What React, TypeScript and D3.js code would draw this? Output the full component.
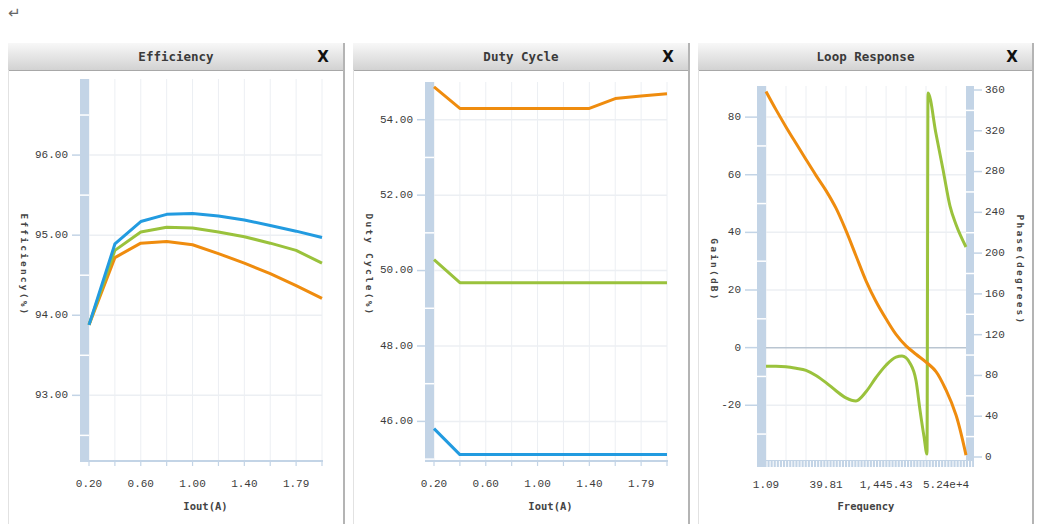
import * as d3 from 'd3';

// ---- data ----
const iout = ['0.20', '0.40', '0.60', '0.80', '1.00', '1.20', '1.40', '1.60', '1.79', '1.99'];
const ioutShown = ['0.20', '0.60', '1.00', '1.40', '1.79'];

const effBlue = [93.88, 94.89, 95.17, 95.26, 95.27, 95.24, 95.19, 95.12, 95.05, 94.97];
const effGreen = [93.88, 94.81, 95.04, 95.1, 95.09, 95.04, 94.98, 94.9, 94.81, 94.65];
const effOrange = [93.88, 94.72, 94.9, 94.92, 94.88, 94.77, 94.65, 94.52, 94.37, 94.21];
const effTicks = [93, 94, 95, 96];
const effMinor = [92.5, 93.5, 94.5, 95.5, 96.5];

const dutyOrange = [54.87, 54.3, 54.3, 54.3, 54.3, 54.3, 54.3, 54.56, 54.63, 54.69];
const dutyGreen = [50.29, 49.68, 49.68, 49.68, 49.68, 49.68, 49.68, 49.68, 49.68, 49.68];
const dutyBlue = [45.81, 45.12, 45.12, 45.12, 45.12, 45.12, 45.12, 45.12, 45.12, 45.12];
const dutyTicks = [46, 48, 50, 52, 54];
const dutyMinor = [45, 47, 49, 51, 53, 55];

const gainFreq = [1.09, 1.98, 3.61, 6.57, 11.95, 21.7, 39.6, 72, 131, 238, 434, 790, 1437, 2615, 4757, 8656, 15750, 28650, 52130, 94850, 172600];
const gainDb = [88.9, 82.6, 76.6, 70.9, 65.3, 59.8, 54.5, 48.4, 40.6, 31.9, 23.2, 16.0, 10.0, 4.6, 0.6, -2.3, -5.0, -8.3, -14.7, -23.4, -37.3];
const phaseFreq = [1.09, 1.98, 3.61, 6.57, 11.95, 21.7, 39.6, 72, 131, 238, 434, 790, 1437, 2615, 3745, 6045, 8656, 11000, 13977, 16727, 17760, 28650, 43590, 66290, 94850, 172600];
const phaseDeg = [89, 89, 88.5, 87, 85, 80, 73, 65, 58, 55, 64, 78, 90, 98, 99, 92, 75, 46, 20, 3, 357, 317, 282, 246, 228, 206];
const gainTicks = [-20, 0, 20, 40, 60, 80];
const gainMinor = [-30, -10, 10, 30, 50, 70];
const phaseTicks = [0, 40, 80, 120, 160, 200, 240, 280, 320, 360];
const phaseMinor = [20, 60, 100, 140, 180, 220, 260, 300, 340];
const freqLabels = [1.09, 39.81, 1445.43, 52400];
const freqLabelText = ['1.09', '39.81', '1,445.43', '5.24e+4'];
const freqGrid = [3.61, 11.95, 39.81, 131, 438, 1445.43, 4757, 15750, 52400];

const BLUE = '#229be0';
const GREEN = '#9ac23c';
const ORANGE = '#ef8c0e';
const BAR = '#c3d4e6';
const GRID = '#eceff3';
const MONO = '"Liberation Mono", "DejaVu Sans Mono", monospace';
const TITLE = '"DejaVu Sans Mono", monospace';
const LABEL = '#3c3c3c';

const Panel = ({ x0, x1, title }) => (
  <g>
    <defs>
      <linearGradient id={`hdr${x0}`} x1="0" x2="0" y1="0" y2="1">
        <stop offset="0" stopColor="#f8f8f8" />
        <stop offset="1" stopColor="#d2d2d2" />
      </linearGradient>
    </defs>
    <rect x={x0} y={43} width={x1 - x0} height={27} fill={`url(#hdr${x0})`} />
    <line x1={x0} x2={x1} y1={70.5} y2={70.5} stroke="#a8a8a8" />
    <line x1={x0 + 0.5} x2={x0 + 0.5} y1={70} y2={524} stroke="#e2e2e2" />
    <line x1={x1} x2={x1} y1={43} y2={524} stroke="#b4b4b4" strokeWidth={2} />
    <text x={(x0 + x1) / 2} y={57} textAnchor="middle" dominantBaseline="middle"
      fontFamily={TITLE} fontWeight="bold" fontSize={12.5} fill="#3a3a3a">{title}</text>
    <text x={x1 - 21} y={57} textAnchor="middle" dominantBaseline="middle"
      fontFamily="'DejaVu Sans', sans-serif" fontWeight="bold" fontSize={15} fill="#111">X</text>
  </g>
);

const IoutChart = ({ x0, x1, title, yLabel, domain, ticks, minor, series, top }) => {
  const left = x0 + 81;
  const right = x0 + 314;
  const bottom = 461;
  const x = d3.scalePoint().domain(iout).range([left, right]);
  const y = d3.scaleLinear().domain(domain).range([bottom, top]);
  const line = d3.line().x((d, i) => x(iout[i])).y((d) => y(d));

  return (
    <g>
      <Panel x0={x0} x1={x1} title={title} />
      {iout.map((c) => (
        <line key={c} x1={x(c)} x2={x(c)} y1={top} y2={bottom} stroke={GRID} />
      ))}
      {ticks.map((t) => (
        <line key={t} x1={left} x2={right} y1={y(t)} y2={y(t)} stroke={GRID} strokeWidth={1.5} />
      ))}
      <rect x={left - 9} y={top} width={9} height={bottom - top} fill={BAR} />
      {minor.filter((m) => y(m) > top && y(m) < bottom).map((m) => (
        <line key={m} x1={left - 9} x2={left} y1={y(m)} y2={y(m)} stroke="#fff" strokeWidth={1.5} />
      ))}
      {ticks.map((t) => (
        <g key={t}>
          <line x1={left - 17} x2={left - 9} y1={y(t)} y2={y(t)} stroke={BAR} strokeWidth={1.5} />
          <text x={left - 21} y={y(t)} textAnchor="end" dominantBaseline="middle"
            fontFamily={MONO} fontSize={11} fill={LABEL}>{t.toFixed(2)}</text>
        </g>
      ))}
      <line x1={left - 9} x2={right + 1} y1={bottom} y2={bottom} stroke={BAR} strokeWidth={2} />
      {iout.map((c) => (
        <line key={c} x1={x(c)} x2={x(c)} y1={bottom} y2={bottom + 5} stroke={BAR} strokeWidth={1.2} />
      ))}
      {ioutShown.map((c) => (
        <text key={c} x={x(c)} y={484} textAnchor="middle" dominantBaseline="middle"
          fontFamily={MONO} fontSize={11} fill={LABEL}>{c}</text>
      ))}
      <text x={(left + right) / 2} y={507} textAnchor="middle" dominantBaseline="middle"
        fontFamily={TITLE} fontWeight="bold" fontSize={10.5} fill="#444">Iout(A)</text>
      <text transform={`translate(${x0 + 15},265) rotate(90)`} textAnchor="middle" dominantBaseline="middle"
        fontFamily={TITLE} fontWeight="bold" fontSize={9.5} letterSpacing={2.2} fill="#444">{yLabel}</text>
      {series.map((s) => (
        <path key={s.color} d={line(s.values)} fill="none" stroke={s.color} strokeWidth={3} strokeLinejoin="round" />
      ))}
    </g>
  );
};

const LoopChart = ({ x0, x1 }) => {
  const left = 766;
  const right = 966;
  const bottom = 460;
  const top = 86;
  const x = d3.scaleLog().domain([1.09, 172600]).range([left, right]);
  const yG = d3.scaleLinear().domain([-39, 90.8]).range([bottom, top]);
  const yP = d3.scaleLinear().domain([0, 360]).range([457, 90]);
  const gainLine = d3.line().x((d, i) => x(gainFreq[i])).y((d) => yG(d)).curve(d3.curveCatmullRom.alpha(0.5));
  const phaseLine = d3.line().x((d, i) => x(phaseFreq[i])).y((d) => yP(d)).curve(d3.curveMonotoneX);
  const dashes = d3.range(left + 1, right + 6, 3.1);

  return (
    <g>
      <Panel x0={x0} x1={x1} title="Loop Response" />
      {[1.09, ...freqGrid].map((f) => (
        <line key={f} x1={x(f)} x2={x(f)} y1={top} y2={bottom} stroke={GRID} />
      ))}
      {gainTicks.filter((t) => t !== 0).map((t) => (
        <line key={t} x1={left} x2={right} y1={yG(t)} y2={yG(t)} stroke={GRID} strokeWidth={1.5} />
      ))}
      <line x1={left} x2={right} y1={yG(0)} y2={yG(0)} stroke="#b9c5d1" strokeWidth={1.5} />
      <rect x={left - 9} y={top} width={9} height={bottom - top} fill={BAR} />
      <rect x={right} y={top} width={8} height={bottom - top} fill={BAR} />
      <rect x={left - 9} y={bottom} width={right - left + 17} height={7} fill={BAR} />
      {dashes.map((d) => (
        <line key={d} x1={d} x2={d} y1={bottom + 1} y2={bottom + 7} stroke="#fff" strokeWidth={1} />
      ))}
      {gainMinor.map((m) => (
        <line key={m} x1={left - 9} x2={left} y1={yG(m)} y2={yG(m)} stroke="#fff" strokeWidth={1.5} />
      ))}
      {phaseMinor.map((m) => (
        <line key={m} x1={right} x2={right + 8} y1={yP(m)} y2={yP(m)} stroke="#fff" strokeWidth={1.5} />
      ))}
      {gainTicks.map((t) => (
        <g key={t}>
          <line x1={left - 21} x2={left - 9} y1={yG(t)} y2={yG(t)} stroke={BAR} strokeWidth={1.5} />
          <text x={left - 25} y={yG(t)} textAnchor="end" dominantBaseline="middle"
            fontFamily={MONO} fontSize={11} fill={LABEL}>{t}</text>
        </g>
      ))}
      {phaseTicks.map((t) => (
        <g key={t}>
          <line x1={right + 8} x2={right + 16} y1={yP(t)} y2={yP(t)} stroke={BAR} strokeWidth={1.5} />
          <text x={right + 19} y={yP(t)} textAnchor="start" dominantBaseline="middle"
            fontFamily={MONO} fontSize={11} fill={LABEL}>{t}</text>
        </g>
      ))}
      {freqLabels.map((f, i) => (
        <text key={f} x={x(f)} y={485} textAnchor="middle" dominantBaseline="middle"
          fontFamily={MONO} fontSize={11} fill={LABEL}>{freqLabelText[i]}</text>
      ))}
      <text x={(left + right) / 2} y={507} textAnchor="middle" dominantBaseline="middle"
        fontFamily={TITLE} fontWeight="bold" fontSize={10.5} fill="#444">Frequency</text>
      <text transform={`translate(${x0 + 15},270) rotate(90)`} textAnchor="middle" dominantBaseline="middle"
        fontFamily={TITLE} fontWeight="bold" fontSize={9.5} letterSpacing={2.2} fill="#444">Gain(dB)</text>
      <text transform={`translate(${x1 - 14},270) rotate(90)`} textAnchor="middle" dominantBaseline="middle"
        fontFamily={TITLE} fontWeight="bold" fontSize={9.5} letterSpacing={2.2} fill="#444">Phase(degrees)</text>
      <path d={phaseLine(phaseDeg)} fill="none" stroke={GREEN} strokeWidth={3} strokeLinejoin="round" />
      <path d={gainLine(gainDb)} fill="none" stroke={ORANGE} strokeWidth={3} strokeLinejoin="round" />
    </g>
  );
};

export default function App() {
  return (
    <div style={{ position: 'absolute', left: 0, top: 0 }}>
      <svg width={1038} height={524} style={{ display: 'block', background: '#fff' }}>
        <text x={8} y={18} fontFamily="'DejaVu Sans', sans-serif" fontSize={15} fill="#666">↵</text>
        <IoutChart x0={8} x1={344} title="Efficiency" yLabel="Efficiency(%)"
          domain={[92.18, 96.95]} ticks={effTicks} minor={effMinor} top={79}
          series={[{ color: ORANGE, values: effOrange }, { color: GREEN, values: effGreen }, { color: BLUE, values: effBlue }]} />
        <IoutChart x0={353} x1={689} title="Duty Cycle" yLabel="Duty Cycle(%)"
          domain={[44.95, 55.0]} ticks={dutyTicks} minor={dutyMinor} top={82}
          series={[{ color: ORANGE, values: dutyOrange }, { color: GREEN, values: dutyGreen }, { color: BLUE, values: dutyBlue }]} />
        <LoopChart x0={698} x1={1033} />
      </svg>
    </div>
  );
}
